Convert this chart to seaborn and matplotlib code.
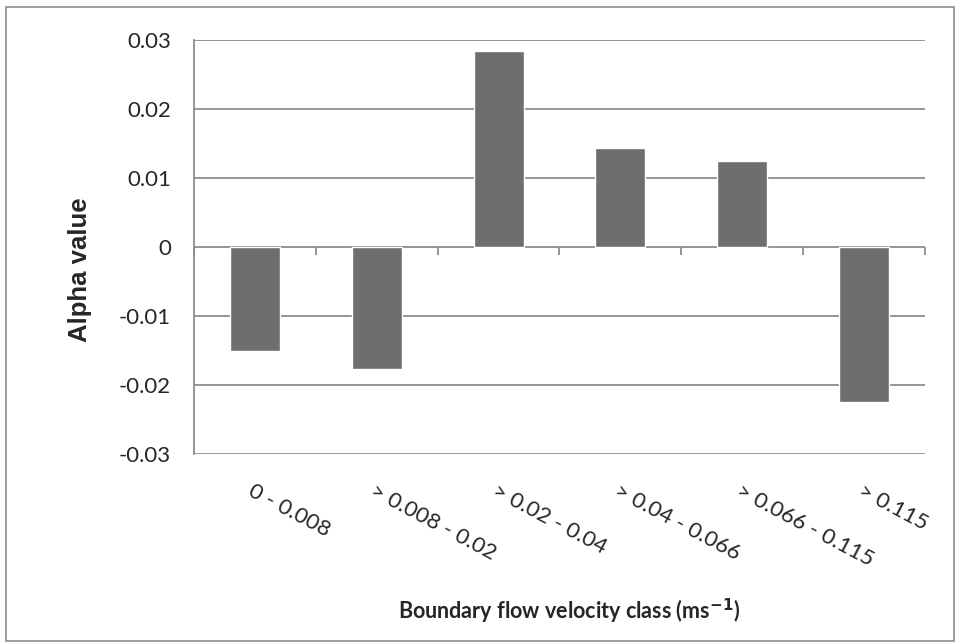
import numpy as np
import pandas as pd
import matplotlib.pyplot as plt
from matplotlib.patches import Rectangle
import seaborn as sns

# values
classes = ["0 - 0.008", "> 0.008 - 0.02", "> 0.02 - 0.04", "> 0.04 - 0.066",
           "> 0.066 - 0.115", "> 0.115"]
alpha_vals = [-0.0151, -0.0177, 0.0284, 0.0144, 0.0124, -0.0225]
y_ticks = [-0.03, -0.02, -0.01, 0, 0.01, 0.02, 0.03]
y_ticklabels = ["-0.03", "-0.02", "-0.01", "0", "0.01", "0.02", "0.03"]

df = pd.DataFrame({"cls": classes, "alpha": alpha_vals})

sns.set_style("white")
plt.rcParams["font.family"] = ["Lato", "DejaVu Sans"]

grid_col = "#8c8c8c"

fig = plt.figure(figsize=(9.58, 6.44), dpi=100)
ax = fig.add_axes([0.2025, 0.295, 0.763, 0.643])

sns.barplot(data=df, x="cls", y="alpha", color="#6e6e6e", width=0.41,
            saturation=1, ax=ax, zorder=3)

ax.set_ylim(-0.03, 0.03)
ax.set_xlim(-0.5, len(classes) - 0.5)
ax.set_yticks(y_ticks)
ax.set_yticklabels(y_ticklabels, fontsize=16)
ax.yaxis.grid(True, color=grid_col, linewidth=1.3, zorder=0)
ax.set_axisbelow(True)

for s in ["top", "right", "bottom"]:
    ax.spines[s].set_visible(False)
ax.spines["left"].set_color(grid_col)
ax.spines["left"].set_linewidth(1.3)
ax.tick_params(axis="y", which="major", direction="out", length=6.5,
               width=1.3, color=grid_col, pad=10)

# category labels at the bottom, rotated, starting at the category centre
ax.set_xticks(range(len(classes)), classes, rotation=-28, ha="left",
              va="top", rotation_mode="anchor", fontsize=16)
ax.tick_params(axis="x", length=0, pad=19)

# category boundary ticks on the zero line
sec = ax.secondary_xaxis(0.5)
sec.set_xticks(np.arange(len(classes) + 1) - 0.5)
sec.xaxis.set_ticks_position("bottom")
sec.tick_params(axis="x", direction="out", length=6, width=1.3,
                color=grid_col, labelbottom=False, labeltop=False)
for s in sec.spines.values():
    s.set_visible(False)

ax.set_xlabel("Boundary flow velocity class (ms$^{\\mathbf{-1}}$)",
              fontsize=15.5, fontweight="bold")
ax.xaxis.set_label_coords(0.513, -0.345)
ax.set_ylabel("Alpha value", fontsize=18.5, fontweight="bold",
              family=["Liberation Sans", "DejaVu Sans"])
ax.yaxis.set_label_coords(-0.139, 0.444)

# outer frame like the spreadsheet chart area
fig.patches.append(Rectangle((0.006, 0.004), 0.99, 0.985,
                             transform=fig.transFigure, fill=False,
                             edgecolor="#8c8c8c", linewidth=1.2))

fig.savefig("out.png", dpi=100)
